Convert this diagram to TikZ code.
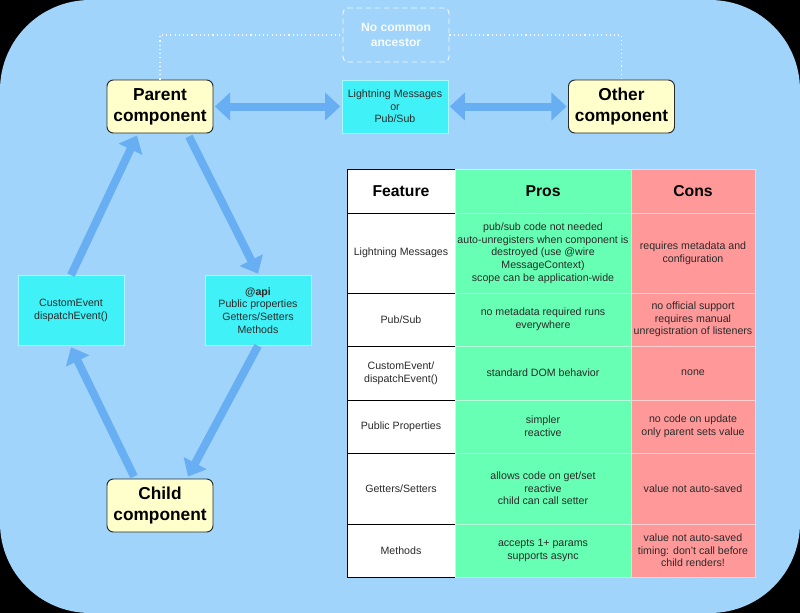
\documentclass[tikz,border=0pt]{standalone}
\usepackage{fontspec}
\setmainfont{Liberation Sans}
\usetikzlibrary{arrows.meta, positioning, calc}
\definecolor{skybg}{HTML}{A0D4FB}
\definecolor{flowblue}{HTML}{68AEF2}
\definecolor{msgcyan}{HTML}{40F2F8}
\definecolor{compyellow}{HTML}{FFFFCC}
\definecolor{proscol}{HTML}{66FFB3}
\definecolor{conscol}{HTML}{FF9999}
\definecolor{inkgrey}{HTML}{2A2A2A}
\newcommand{\cellfont}{\fontsize{7.55}{9}\selectfont}
\newcommand{\titlefont}{\fontsize{12.3}{14.8}\selectfont\bfseries}
\tikzset{
  compbox/.style={draw=inkgrey, fill=compyellow, line width=0.7pt, rounded corners=1.6mm,
    minimum width=26.5mm, minimum height=13.25mm, inner sep=0pt, align=center, font=\titlefont},
  msgbox/.style={draw=white!55!msgcyan, fill=msgcyan, line width=0.5pt,
    minimum width=26.5mm, inner sep=0pt, align=center, font=\cellfont, text=inkgrey},
  fatarrow/.style={draw=flowblue, line width=2mm, -{Triangle[length=3.8mm, width=6.3mm]}},
  twoway/.style={draw=flowblue, line width=2mm,
    {Triangle[length=3.8mm, width=6.8mm]}-{Triangle[length=3.8mm, width=6.8mm]}},
  dotline/.style={draw=white!85!skybg, line width=0.8pt, dash pattern=on 0.8pt off 2.2pt},
  featcell/.style={draw=black, fill=white, line width=0.7pt, minimum width=27mm,
    inner sep=0pt, align=center, font=\cellfont, text=inkgrey},
  proscell/.style={draw=white!55!proscol, fill=proscol, line width=0.5pt, minimum width=44mm,
    inner sep=0pt, align=center, font=\cellfont, text=inkgrey},
  conscell/.style={draw=white!55!conscol, fill=conscol, line width=0.5pt, minimum width=31mm,
    inner sep=0pt, align=center, font=\cellfont, text=inkgrey},
  headtxt/.style={font=\fontsize{11.2}{13}\selectfont\bfseries, text=black}
}

\begin{document}
\begin{tikzpicture}[x=0.25mm, y=-0.25mm]
  % background: black frame with rounded sky-blue panel
  \fill[black] (0,0) rectangle (800,613);
  \fill[skybg, rounded corners=22.5mm] (0,0) rectangle (800,613);

  % ===== components =====
  \node[compbox] (parent) at (160,106.5) {Parent\\component};
  \node[compbox] (other) at (621.5,106.5) {Other\\component};
  \node[compbox] (child) at (160,505.5) {Child\\component};

  % ===== message / event boxes =====
  \node[msgbox, minimum height=13.25mm] (lms) at (395,106.5)
       {Lightning Messages\\or\\Pub/Sub};
  \node[msgbox, minimum height=17.5mm] (custom) at (71,310.5)
       {CustomEvent\\dispatchEvent()};
  \node[msgbox, minimum height=17.5mm] (api) at (258,310.5)
       {\textbf{@api}\\Public properties\\Getters/Setters\\Methods};

  % no common ancestor (dashed, white)
  \node[draw=white!85!skybg, fill=skybg, dash pattern=on 4pt off 2.5pt, line width=0.7pt,
        rounded corners=1.2mm, minimum width=26.5mm, minimum height=13.5mm, inner sep=0pt,
        align=center, text=white!92!skybg, font=\fontsize{8.6}{11}\selectfont\bfseries]
       (ancestor) at (396,35) {No common\\ancestor};
  \draw[dotline] (parent.north) |- (ancestor.west);
  \draw[dotline] (ancestor.east) -| (other.north);

  % ===== arrows =====
  \draw[twoway] ([xshift=1pt]parent.east) -- ([xshift=-1pt]lms.west);
  \draw[twoway] ([xshift=1pt]lms.east) -- ([xshift=-1pt]other.west);
  \draw[fatarrow] (custom.north) -- ($(parent.south)+(-23,2)$);
  \draw[fatarrow] ($(parent.south)+(29,3)$) -- ([yshift=1pt]api.north);
  \draw[fatarrow] (api.south) -- ($(child.north)+(28,-2)$);
  \draw[fatarrow] ($(child.north)+(-26,-2)$) -- ([yshift=-1pt]custom.south);

  % ===== comparison table =====
  \node[featcell, minimum height=11mm, headtxt] (feat0) at (401,191) {Feature};
  \node[proscell, minimum height=11mm, headtxt] (pros0) at (543,191) {Pros};
  \node[conscell, minimum height=11mm, headtxt] (cons0) at (693,191) {Cons};

  \node[featcell, minimum height=20mm] (feat1) at (401,253) {Lightning Messages};
  \node[proscell, minimum height=20mm] (pros1) at (543,253)
       {pub/sub code not needed\\auto-unregisters when component is\\destroyed (use @wire\\MessageContext)\\scope can be application-wide};
  \node[conscell, minimum height=20mm] (cons1) at (693,253)
       {requires metadata and\\configuration};

  \node[featcell, minimum height=13.25mm] (feat2) at (401,319.5) {Pub/Sub};
  \node[proscell, minimum height=13.25mm] (pros2) at (543,319.5)
       {no metadata required runs\\everywhere};
  \node[conscell, minimum height=13.25mm] (cons2) at (693,319.5)
       {no official support\\requires manual\\unregistration of listeners};

  \node[featcell, minimum height=13.5mm] (feat3) at (401,373) {CustomEvent/\\dispatchEvent()};
  \node[proscell, minimum height=13.5mm] (pros3) at (543,373) {standard DOM behavior};
  \node[conscell, minimum height=13.5mm] (cons3) at (693,373) {none};

  \node[featcell, minimum height=13.25mm] (feat4) at (401,426.5) {Public Properties};
  \node[proscell, minimum height=13.25mm] (pros4) at (543,426.5) {simpler\\reactive};
  \node[conscell, minimum height=13.25mm] (cons4) at (693,426.5)
       {no code on update\\only parent sets value};

  \node[featcell, minimum height=17.75mm] (feat5) at (401,488.5) {Getters/Setters};
  \node[proscell, minimum height=17.75mm] (pros5) at (543,488.5)
       {allows code on get/set\\reactive\\child can call setter};
  \node[conscell, minimum height=17.75mm] (cons5) at (693,488.5) {value not auto-saved};

  \node[featcell, minimum height=13.25mm] (feat6) at (401,550.5) {Methods};
  \node[proscell, minimum height=13.25mm] (pros6) at (543,550.5)
       {accepts 1+ params\\supports async};
  \node[conscell, minimum height=13.25mm] (cons6) at (693,550.5)
       {value not auto-saved\\timing: don't call before\\child renders!};
\end{tikzpicture}
\end{document}
